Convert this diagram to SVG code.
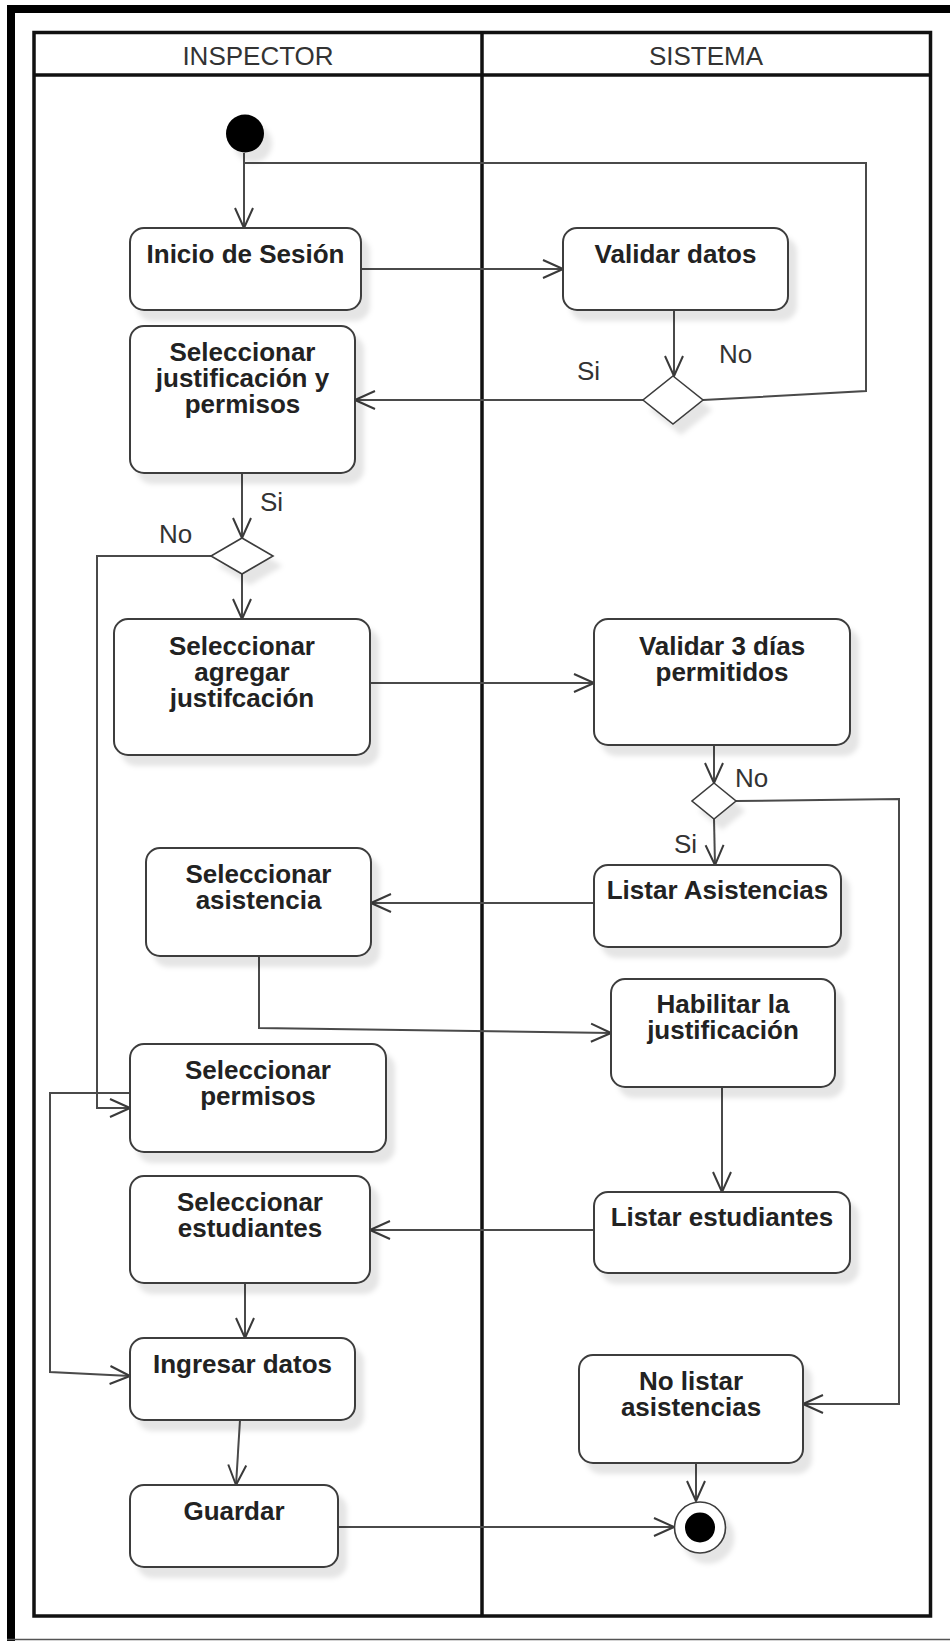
<svg xmlns="http://www.w3.org/2000/svg" width="950" height="1641" viewBox="0 0 950 1641">
  <style>
    .lane-title { font-family: "Liberation Sans", Arial, sans-serif; font-size: 26px; fill: #333; text-anchor: middle; }
    .act { fill: #fff; stroke: #3c3c3c; stroke-width: 2; filter: url(#shadow); }
    .dec { fill: #fff; stroke: #3c3c3c; stroke-width: 1.6; filter: url(#shadow); }
    .lbl { font-family: "Liberation Sans", Arial, sans-serif; font-size: 26px; font-weight: bold; fill: #222; text-anchor: middle; }
    .guard { font-family: "Liberation Sans", Arial, sans-serif; font-size: 26px; fill: #333; }
    .flow { fill: none; stroke: #4a4a4a; stroke-width: 2; }
    .arrow { marker-end: url(#open); }
    .pool { fill: none; stroke: #111; stroke-width: 3.5; }
  </style>
  <defs>
    <filter id="shadow" x="-20%" y="-20%" width="150%" height="160%">
      <feDropShadow dx="8" dy="10" stdDeviation="2.5" flood-color="#000" flood-opacity="0.1"/>
    </filter>
    <marker id="open" viewBox="-22 -11 24 22" refX="0" refY="0" markerWidth="24" markerHeight="22" markerUnits="userSpaceOnUse" orient="auto">
      <path d="M-20,-9 L0,0 L-20,9" fill="none" stroke="#3a3a3a" stroke-width="2" stroke-linejoin="round"/>
    </marker>
  </defs>

  <rect width="950" height="1641" fill="#fff"/>

  <!-- outer frame -->
  <g id="frame">
    <rect x="7" y="5" width="943" height="8" fill="#000"/>
    <rect x="7" y="5" width="8" height="1636" fill="#000"/>
    <line x1="7" y1="1639.5" x2="950" y2="1639.5" stroke="#555" stroke-width="1.5"/>
  </g>

  <!-- swimlanes -->
  <g id="lanes">
    <rect class="pool" x="34" y="32.5" width="896.5" height="1583.5"/>
    <line class="pool" x1="34" y1="75" x2="930.5" y2="75"/>
    <line class="pool" x1="482" y1="32.5" x2="482" y2="1616"/>
    <text class="lane-title" x="258" y="65">INSPECTOR</text>
    <text class="lane-title" x="706" y="65">SISTEMA</text>
  </g>

  <!-- connectors -->
  <g id="connectors">
    <path class="flow arrow" d="M244,153 L244,228"/>
    <path class="flow arrow" d="M361,269 L563,269"/>
    <path class="flow arrow" d="M674,310 L674,376"/>
    <path class="flow arrow" d="M643,400 L355,400"/>
    <path class="flow" d="M703,400 L866,391 L866,163 L244,163"/>
    <path class="flow arrow" d="M242,473 L242,538"/>
    <path class="flow arrow" d="M242,574 L242,619"/>
    <path class="flow arrow" d="M211,556 L97,556 L97,1108 L130,1108"/>
    <path class="flow arrow" d="M370,683 L594,683"/>
    <path class="flow arrow" d="M714,745 L714,783"/>
    <path class="flow arrow" d="M714,819 L715,865"/>
    <path class="flow arrow" d="M736,801 L899,799 L899,1404 L803,1404"/>
    <path class="flow arrow" d="M594,903 L371,903"/>
    <path class="flow arrow" d="M259,956 L259,1028 L611,1033"/>
    <path class="flow arrow" d="M722,1087 L722,1192"/>
    <path class="flow arrow" d="M594,1230 L370,1230"/>
    <path class="flow arrow" d="M130,1093 L50,1093 L50,1372 L130,1376"/>
    <path class="flow arrow" d="M245,1283 L245,1338"/>
    <path class="flow arrow" d="M240,1420 L236,1485"/>
    <path class="flow arrow" d="M338,1527 L674,1527"/>
    <path class="flow arrow" d="M696,1463 L696,1501"/>
    <text class="guard" x="577" y="380">Si</text>
    <text class="guard" x="719" y="363">No</text>
    <text class="guard" x="260" y="511">Si</text>
    <text class="guard" x="159" y="543">No</text>
    <text class="guard" x="735" y="787">No</text>
    <text class="guard" x="674" y="853">Si</text>
  </g>

  <!-- start / end -->
  <g id="start">
    <circle cx="245" cy="133.5" r="19" fill="#000" filter="url(#shadow)"/>
  </g>
  <g id="end">
    <circle cx="700" cy="1527.5" r="25.5" fill="#fff" stroke="#3c3c3c" stroke-width="1.6" filter="url(#shadow)"/>
    <circle cx="700" cy="1527.5" r="15" fill="#000"/>
  </g>

  <!-- decisions -->
  <g id="decision-datos">
    <polygon class="dec" points="673,376 703,400 673,424 643,400"/>
  </g>
  <g id="decision-justificacion">
    <polygon class="dec" points="242,538 273,556 242,574 211,556"/>
  </g>
  <g id="decision-dias">
    <polygon class="dec" points="714,783 736,801 714,819 692,801"/>
  </g>

  <!-- activities -->
  <g id="inicio-sesion">
    <rect class="act" x="130" y="228" width="231" height="82" rx="14"/>
    <text class="lbl" x="245.5" y="263">Inicio de Sesión</text>
  </g>
  <g id="validar-datos">
    <rect class="act" x="563" y="228" width="225" height="82" rx="14"/>
    <text class="lbl" x="675.5" y="263">Validar datos</text>
  </g>
  <g id="seleccionar-justificacion">
    <rect class="act" x="130" y="326" width="225" height="147" rx="14"/>
    <text class="lbl" x="242.5" y="361">Seleccionar<tspan x="242.5" dy="26">justificación y</tspan><tspan x="242.5" dy="26">permisos</tspan></text>
  </g>
  <g id="seleccionar-agregar">
    <rect class="act" x="114" y="619" width="256" height="136" rx="14"/>
    <text class="lbl" x="242" y="655">Seleccionar<tspan x="242" dy="26">agregar</tspan><tspan x="242" dy="26">justifcación</tspan></text>
  </g>
  <g id="validar-dias">
    <rect class="act" x="594" y="619" width="256" height="126" rx="14"/>
    <text class="lbl" x="722" y="655">Validar 3 días<tspan x="722" dy="26">permitidos</tspan></text>
  </g>
  <g id="listar-asistencias">
    <rect class="act" x="594" y="865" width="247" height="82" rx="14"/>
    <text class="lbl" x="717.5" y="899">Listar Asistencias</text>
  </g>
  <g id="seleccionar-asistencia">
    <rect class="act" x="146" y="848" width="225" height="108" rx="14"/>
    <text class="lbl" x="258.5" y="883">Seleccionar<tspan x="258.5" dy="26">asistencia</tspan></text>
  </g>
  <g id="habilitar-justificacion">
    <rect class="act" x="611" y="979" width="224" height="108" rx="14"/>
    <text class="lbl" x="723" y="1013">Habilitar la<tspan x="723" dy="26">justificación</tspan></text>
  </g>
  <g id="seleccionar-permisos">
    <rect class="act" x="130" y="1044" width="256" height="108" rx="14"/>
    <text class="lbl" x="258" y="1079">Seleccionar<tspan x="258" dy="26">permisos</tspan></text>
  </g>
  <g id="seleccionar-estudiantes">
    <rect class="act" x="130" y="1176" width="240" height="107" rx="14"/>
    <text class="lbl" x="250" y="1211">Seleccionar<tspan x="250" dy="26">estudiantes</tspan></text>
  </g>
  <g id="listar-estudiantes">
    <rect class="act" x="594" y="1192" width="256" height="81" rx="14"/>
    <text class="lbl" x="722" y="1226">Listar estudiantes</text>
  </g>
  <g id="ingresar-datos">
    <rect class="act" x="130" y="1338" width="225" height="82" rx="14"/>
    <text class="lbl" x="242.5" y="1373">Ingresar datos</text>
  </g>
  <g id="guardar">
    <rect class="act" x="130" y="1485" width="208" height="82" rx="14"/>
    <text class="lbl" x="234" y="1520">Guardar</text>
  </g>
  <g id="no-listar-asistencias">
    <rect class="act" x="579" y="1355" width="224" height="108" rx="14"/>
    <text class="lbl" x="691" y="1390">No listar<tspan x="691" dy="26">asistencias</tspan></text>
  </g>
</svg>
